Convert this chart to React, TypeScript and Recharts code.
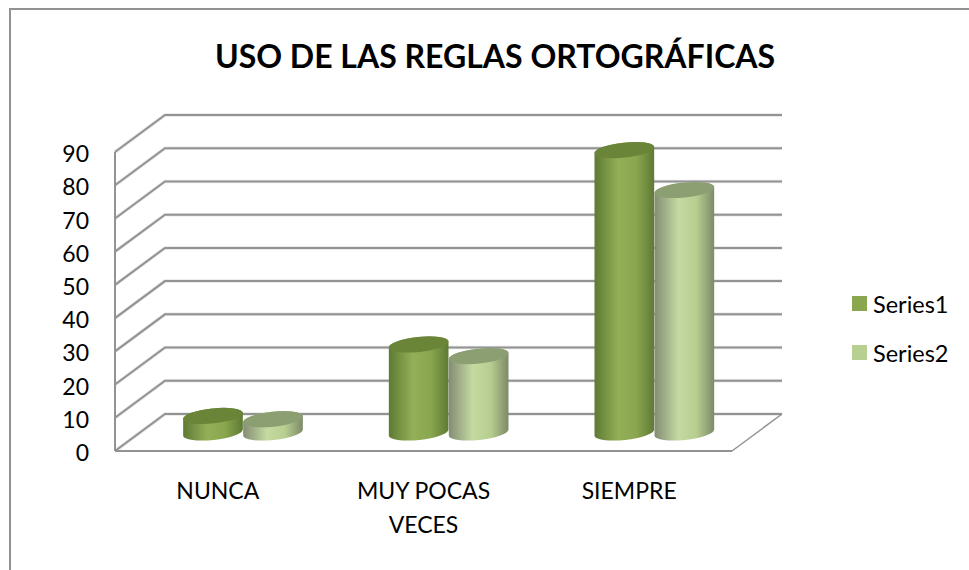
import { BarChart, Bar, XAxis, YAxis, CartesianGrid, Legend, Text } from 'recharts'

const categories = ['NUNCA', 'MUY POCAS VECES', 'SIEMPRE']
const series1 = [5, 26.5, 85]
const series2 = [4, 23, 73]
const yTicks = [0, 10, 20, 30, 40, 50, 60, 70, 80, 90]

const data = categories.map((name, i) => ({ name, Series1: series1[i], Series2: series2[i] }))

const W = 969
const H = 570
const FONT = 'Lato, "Noto Sans", sans-serif'
const GRID = '#939393'

// how far the back wall sits behind the front plane
const DEPTH_X = 50
const DEPTH_Y = 37
const WALL_RIGHT = 782

// ── Back wall + side wall line, one per y tick ─────────────────────────────
function gridLine(props: any) {
  const { x1, x2, y1, index } = props
  const backY = y1 - DEPTH_Y
  const wall = `M${x1},${y1} L${x1 + DEPTH_X},${backY} L${WALL_RIGHT},${backY}`
  return (
    <g key={`grid-${index}`} fill="none">
      <path d={wall} stroke="#e6e6e6" strokeWidth={3.5} />
      <path d={wall} stroke={GRID} strokeWidth={2} />
      {y1 > 440 && <path d={`M${x2},${y1} L${WALL_RIGHT},${backY}`} stroke={GRID} strokeWidth={1.5} />}
    </g>
  )
}

// ── Cylinder, standing halfway into the floor ──────────────────────────────
function cylinder(gradient: string, topColor: string) {
  return function Cylinder(props: any) {
    const { x, y, width, height } = props
    const rx = width / 2
    const ry = 7.5
    const tilt = -6
    const dx = rx * Math.cos((tilt * Math.PI) / 180)
    const dy = rx * Math.sin((tilt * Math.PI) / 180)
    const cx = x + width / 2 + DEPTH_X / 2
    const top = y - DEPTH_Y / 2
    const bottom = y + height - DEPTH_Y / 2
    const arc = `A${rx},${ry} ${tilt} 0 0`
    const side =
      `M${cx - dx},${top - dy} ` +
      `L${cx - dx},${bottom - dy} ${arc} ${cx + dx},${bottom + dy} ` +
      `L${cx + dx},${top + dy} ${arc} ${cx - dx},${top - dy} Z`
    return (
      <g>
        <path d={side} fill={`url(#${gradient})`} />
        <ellipse cx={cx} cy={top} rx={rx} ry={ry} fill={topColor} transform={`rotate(${tilt} ${cx} ${top})`} />
      </g>
    )
  }
}

function CategoryTick({ x, y, payload }: any) {
  return (
    <Text
      x={x}
      y={y + 4}
      width={125}
      lineHeight={34}
      textAnchor="middle"
      verticalAnchor="start"
      fill="#000"
      style={{ fontFamily: FONT, fontSize: 23 }}
    >
      {payload.value}
    </Text>
  )
}

function LegendList({ payload }: any) {
  return (
    <div>
      {(payload || []).map((p: any) => (
        <div key={p.value} style={{ display: 'flex', alignItems: 'center', height: 49, fontFamily: FONT, fontSize: 23.5, color: '#000' }}>
          <div style={{ width: 15, height: 15, background: p.color, marginRight: 6 }} />
          {p.value}
        </div>
      ))}
    </div>
  )
}

export default function App() {
  return (
    <div style={{ position: 'absolute', left: 0, top: 0, width: W, height: H, overflow: 'hidden', background: '#fff' }}>
      <div style={{ position: 'absolute', left: 9, top: 8, width: W, height: H, borderLeft: '2px solid #929292', borderTop: '2px solid #929292' }} />
      <div style={{ position: 'absolute', left: 0, top: 36, width: 990, textAlign: 'center', fontFamily: FONT, fontWeight: 700, fontSize: 32, color: '#000' }}>
        USO DE LAS REGLAS ORTOGRÁFICAS
      </div>
      <BarChart
        width={W}
        height={H}
        data={data}
        margin={{ top: 152, right: 120, bottom: 59, left: 0 }}
        barSize={60}
        barGap={0}
        style={{ position: 'absolute', left: 0, top: 0 }}
      >
        <defs>
          <linearGradient id="cyl1" x1="0" y1="0" x2="1" y2="0">
            <stop offset="0%" stopColor="#5e7a34" />
            <stop offset="40%" stopColor="#93af57" />
            <stop offset="70%" stopColor="#8aa64f" />
            <stop offset="100%" stopColor="#5e7a34" />
          </linearGradient>
          <linearGradient id="cyl2" x1="0" y1="0" x2="1" y2="0">
            <stop offset="0%" stopColor="#838d74" />
            <stop offset="40%" stopColor="#c5d9a1" />
            <stop offset="70%" stopColor="#b7ce90" />
            <stop offset="100%" stopColor="#7d8a68" />
          </linearGradient>
        </defs>
        <CartesianGrid vertical={false} horizontal={gridLine} />
        <XAxis
          dataKey="name"
          height={60}
          axisLine={{ stroke: GRID, strokeWidth: 2 }}
          tickLine={false}
          tickMargin={22}
          interval={0}
          tick={CategoryTick}
        />
        <YAxis
          width={115}
          domain={[0, 90]}
          ticks={yTicks}
          axisLine={{ stroke: GRID, strokeWidth: 2 }}
          tickLine={false}
          tickMargin={20}
          tick={{ fill: '#000', fontSize: 23, fontFamily: FONT, dy: 2 }}
        />
        <Legend
          layout="vertical"
          align="right"
          verticalAlign="middle"
          width={117}
          content={LegendList}
          wrapperStyle={{ left: 852, top: 279 }}
        />
        <Bar dataKey="Series1" fill="#8aa64f" isAnimationActive={false} shape={cylinder('cyl1', '#6a8438')} />
        <Bar dataKey="Series2" fill="#b8cf92" isAnimationActive={false} shape={cylinder('cyl2', '#8c9f72')} />
      </BarChart>
    </div>
  )
}
